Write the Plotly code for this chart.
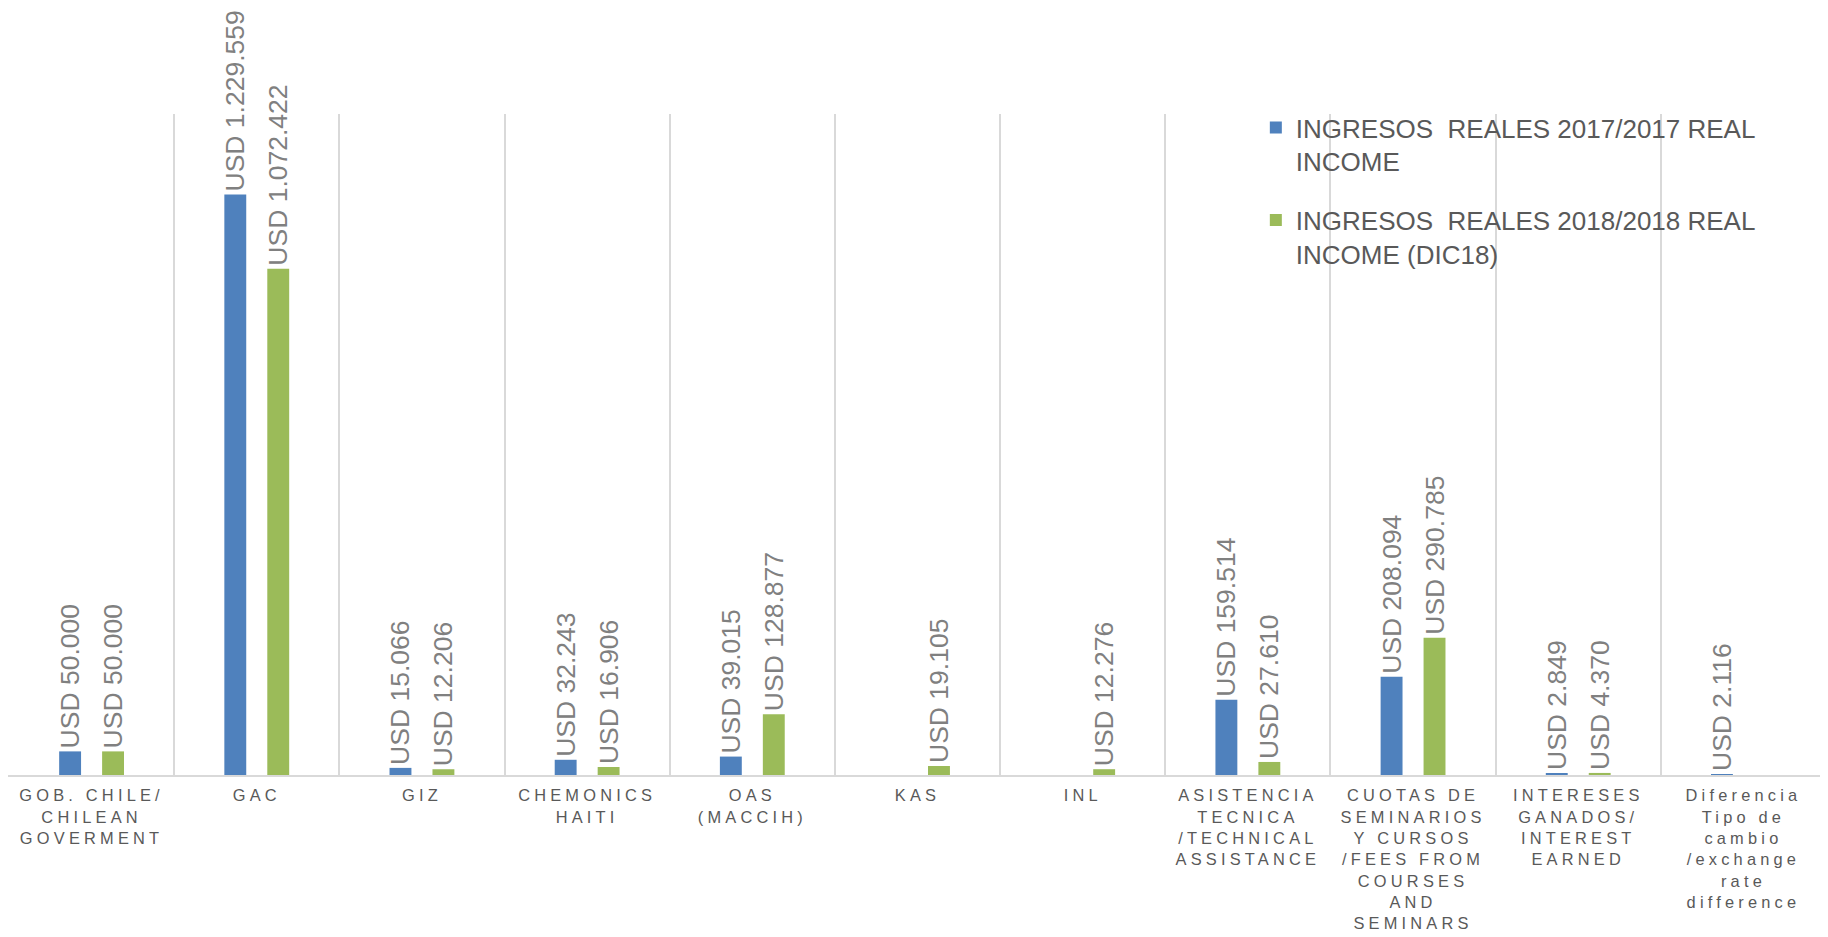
import plotly.graph_objects as go

categories = [
    "GOB. CHILE/<br>CHILEAN<br>GOVERMENT",
    "GAC",
    "GIZ",
    "CHEMONICS<br>HAITI",
    "OAS<br>(MACCIH)",
    "KAS",
    "INL",
    "ASISTENCIA<br>TECNICA<br>/TECHNICAL<br>ASSISTANCE",
    "CUOTAS DE<br>SEMINARIOS<br>Y CURSOS<br>/FEES FROM<br>COURSES<br>AND<br>SEMINARS",
    "INTERESES<br>GANADOS/<br>INTEREST<br>EARNED",
    "Diferencia<br>Tipo de<br>cambio<br>/exchange<br>rate<br>difference",
]
income_2017 = [50000, 1229559, 15066, 32243, 39015, None, None, 159514, 208094, 2849, 2116]
income_2018 = [50000, 1072422, 12206, 16906, 128877, 19105, 12276, 27610, 290785, 4370, None]
series_names = [
    "INGRESOS  REALES 2017/2017 REAL<br>INCOME",
    "INGRESOS  REALES 2018/2018 REAL<br>INCOME (DIC18)",
]
colors = ["#4F81BD", "#9BBB59"]

FONT = "Liberation Sans, Arial, sans-serif"


def fmt(v):
    return "" if v is None else "USD " + f"{v:,}".replace(",", ".")


fig = go.Figure()
for i, (name, vals, col) in enumerate(zip(series_names, [income_2017, income_2018], colors)):
    fig.add_trace(go.Bar(
        x=categories, y=vals, name=name, legendgroup=f"g{i}",
        marker=dict(color=col, line=dict(width=0)),
        text=[fmt(v) for v in vals],
        textposition="outside", textangle=-90,
        constraintext="none", cliponaxis=False,
        textfont=dict(family=FONT, size=26.5, color="#808080"),
    ))

fig.update_layout(
    width=1820, height=929,
    margin=dict(l=0, r=1, t=106, b=162),
    paper_bgcolor="white", plot_bgcolor="white",
    barmode="group", bargap=0.48, bargroupgap=0.49,
    showlegend=True,
    legend=dict(
        x=0.686, y=1.015, xanchor="left", yanchor="top",
        bgcolor="rgba(0,0,0,0)", valign="top",
        font=dict(family=FONT, size=26, color="#595959"),
        tracegroupgap=22,
    ),
    xaxis=dict(
        type="category", tickson="boundaries", showgrid=True,
        gridcolor="#D9D9D9", gridwidth=1.5,
        showline=True, linecolor="#D9D9D9", linewidth=1.5,
        ticks="", tickangle=0, ticklabelstandoff=5, automargin=False,
        tickfont=dict(family=FONT, size=16.4, color="#595959"),
        range=[-0.506, 10.506],
    ),
    yaxis=dict(range=[0, 1400000], visible=False, showgrid=False,
               zeroline=False, automargin=False),
)

post = """
var gd = document.getElementById('{plot_id}');
gd.querySelectorAll('.xtick text').forEach(function(t){ t.setAttribute('letter-spacing','4.2px'); });
"""
fig.write_html("out.html", post_script=post, config={"displayModeBar": False})
